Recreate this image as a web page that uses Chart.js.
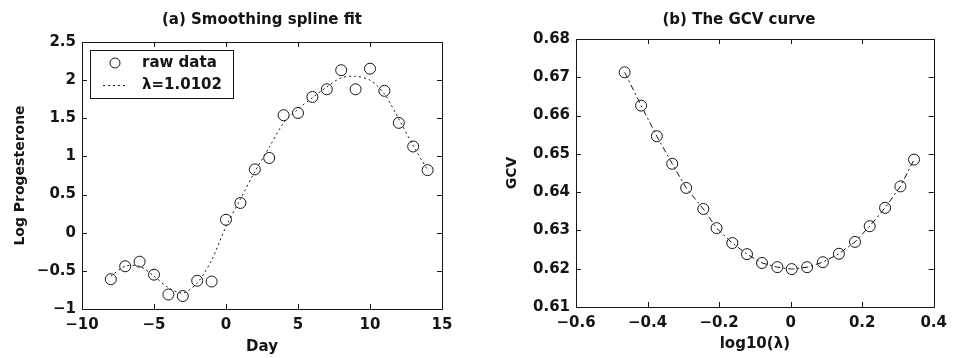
<!DOCTYPE html>
<html>
<head>
<meta charset="utf-8">
<title>Smoothing spline / GCV</title>
<script src="https://cdn.jsdelivr.net/npm/chart.js@4.4.0/dist/chart.umd.min.js"></script>
<style>
    html, body { margin: 0; padding: 0; background: #fff; }
    #wrap { position: relative; width: 954px; height: 358px; }
    .panel { position: absolute; top: 0; width: 477px; height: 358px; }
</style>
</head>
<body>
<div id="wrap">
    <div class="panel" style="left:0"><canvas id="chart-a" width="477" height="358"></canvas></div>
    <div class="panel" style="left:477px"><canvas id="chart-b" width="477" height="358"></canvas></div>
</div>
<script>
/* global Chart */

// ---- data ----
var days   = [-8, -7, -6, -5, -4, -3, -2, -1, 0, 1, 2, 3, 4, 5, 6, 7, 8, 9, 10, 11, 12, 13, 14];
var rawLog = [-0.61, -0.44, -0.38, -0.55, -0.81, -0.83, -0.63, -0.64, 0.17, 0.39, 0.83, 0.98,
              1.54, 1.57, 1.78, 1.88, 2.13, 1.88, 2.15, 1.86, 1.44, 1.13, 0.82];
var fitLog = [-0.57, -0.44, -0.44, -0.57, -0.72, -0.79, -0.66, -0.36, 0.08, 0.44, 0.80, 1.12,
              1.44, 1.62, 1.77, 1.91, 2.03, 2.05, 2.00, 1.82, 1.49, 1.14, 0.82];

var logLambda = [-0.464, -0.418, -0.374, -0.331, -0.292, -0.244, -0.207, -0.163, -0.122, -0.080,
                 -0.037, 0.003, 0.046, 0.090, 0.135, 0.180, 0.221, 0.264, 0.307, 0.345];
var gcv       = [0.6713, 0.6626, 0.6546, 0.6474, 0.6411, 0.6356, 0.6306, 0.6267, 0.6238, 0.6215,
                 0.6204, 0.6199, 0.6204, 0.6217, 0.6239, 0.6270, 0.6311, 0.6359, 0.6415, 0.6485];

var dayTicks        = [-10, -5, 0, 5, 10, 15];
var dayTickLabels   = ['\u221210', '\u22125', '0', '5', '10', '15'];
var progTicks       = [-1, -0.5, 0, 0.5, 1, 1.5, 2, 2.5];
var progTickLabels  = ['\u22121', '\u22120.5', '0', '0.5', '1', '1.5', '2', '2.5'];
var lamTicks        = [-0.6, -0.4, -0.2, 0, 0.2, 0.4];
var lamTickLabels   = ['\u22120.6', '\u22120.4', '\u22120.2', '0', '0.2', '0.4'];
var gcvTicks        = [0.61, 0.62, 0.63, 0.64, 0.65, 0.66, 0.67, 0.68];
var gcvTickLabels   = ['0.61', '0.62', '0.63', '0.64', '0.65', '0.66', '0.67', '0.68'];

var INK = '#151515';
var FONT = '"DejaVu Sans", "Liberation Sans", Arial, sans-serif';

function pairs(xs, ys) {
    return xs.map(function (x, i) { return { x: x, y: ys[i] }; });
}

function axis(opts) {
    return {
        type: 'linear',
        min: opts.min,
        max: opts.max,
        afterBuildTicks: function (s) {
            s.ticks = opts.ticks.map(function (v) { return { value: v }; });
        },
        afterFit: function (s) {
            if (opts.width) s.width = opts.width;
            if (opts.height) s.height = opts.height;
        },
        ticks: {
            color: INK,
            font: { family: FONT, size: 15, weight: 'bold' },
            padding: opts.tickPad,
            autoSkip: false,
            maxRotation: 0,
            callback: function (v, i) { return opts.labels[i]; },
        },
        grid: { display: false, drawTicks: false },
        border: { display: false },
        title: {
            display: true,
            text: opts.title,
            color: INK,
            font: { family: FONT, size: opts.titleSize, weight: 'bold' },
            padding: opts.titlePad,
        },
    };
}

// Matlab style frame: box, inward ticks, title and (optional) legend
var frame = {
    id: 'frame',
    afterDraw: function (chart, args, o) {
        var ctx = chart.ctx, a = chart.chartArea;
        var sx = chart.scales.x, sy = chart.scales.y;
        ctx.save();
        ctx.strokeStyle = INK;
        ctx.lineWidth = 1;
        ctx.strokeRect(Math.round(a.left) + 0.5, Math.round(a.top) + 0.5,
                       Math.round(a.right - a.left), Math.round(a.bottom - a.top));
        ctx.beginPath();
        sx.ticks.forEach(function (t) {
            var px = Math.round(sx.getPixelForValue(t.value)) + 0.5;
            ctx.moveTo(px, a.bottom); ctx.lineTo(px, a.bottom - 5);
            ctx.moveTo(px, a.top);    ctx.lineTo(px, a.top + 5);
        });
        sy.ticks.forEach(function (t) {
            var py = Math.round(sy.getPixelForValue(t.value)) + 0.5;
            ctx.moveTo(a.left, py);  ctx.lineTo(a.left + 5, py);
            ctx.moveTo(a.right, py); ctx.lineTo(a.right - 5, py);
        });
        ctx.stroke();

        // title
        ctx.fillStyle = INK;
        ctx.font = 'bold 15px ' + FONT;
        ctx.textAlign = 'center';
        ctx.textBaseline = 'middle';
        ctx.fillText(o.title, o.titleX, 20);

        // legend
        if (o.legend) {
            var L = o.legend;
            ctx.fillStyle = '#fff';
            ctx.fillRect(L.x, L.y, L.w, L.h);
            ctx.strokeRect(L.x + 0.5, L.y + 0.5, L.w, L.h);
            ctx.beginPath();
            ctx.arc(L.x + 25, L.y + 13, 5, 0, Math.PI * 2);
            ctx.stroke();
            ctx.setLineDash([2, 3]);
            ctx.beginPath();
            ctx.moveTo(L.x + 13, L.y + 35.5);
            ctx.lineTo(L.x + 38, L.y + 35.5);
            ctx.stroke();
            ctx.setLineDash([]);
            ctx.fillStyle = INK;
            ctx.font = 'bold 15px ' + FONT;
            ctx.textAlign = 'left';
            ctx.fillText(L.labels[0], L.x + 52, L.y + 13);
            ctx.fillText(L.labels[1], L.x + 52, L.y + 35);
        }
        ctx.restore();
    },
};

var pointStyle = {
    pointStyle: 'circle',
    pointRadius: 5.5,
    pointBorderColor: INK,
    pointBorderWidth: 1,
    pointBackgroundColor: 'rgba(0,0,0,0)',
};

new Chart(document.getElementById('chart-a'), {
    type: 'scatter',
    data: {
        datasets: [
            Object.assign({
                label: 'raw data',
                data: pairs(days, rawLog),
                showLine: false,
            }, pointStyle),
            {
                label: '\u03bb=1.0102',
                data: pairs(days, fitLog),
                showLine: true,
                borderColor: INK,
                borderWidth: 1,
                borderDash: [2, 3],
                pointRadius: 0,
                tension: 0.3,
            },
        ],
    },
    options: {
        responsive: false,
        animation: false,
        devicePixelRatio: 1,
        events: [],
        layout: { padding: { top: 42, right: 35, left: 0, bottom: 0 } },
        plugins: {
            legend: { display: false },
            tooltip: { enabled: false },
            frame: {
                title: '(a) Smoothing spline fit',
                titleX: 262,
                legend: { x: 90, y: 50, w: 143, h: 48, labels: ['raw data', '\u03bb=1.0102'] },
            },
        },
        scales: {
            x: axis({ min: -10, max: 15, ticks: dayTicks, labels: dayTickLabels, height: 49,
                      tickPad: 7, title: 'Day', titleSize: 15, titlePad: { top: 0, bottom: 2 } }),
            y: axis({ min: -1, max: 2.5, ticks: progTicks, labels: progTickLabels, width: 82,
                      tickPad: 6, title: 'Log Progesterone', titleSize: 14, titlePad: { top: 12, bottom: 0 } }),
        },
    },
    plugins: [frame],
});

new Chart(document.getElementById('chart-b'), {
    type: 'scatter',
    data: {
        datasets: [
            Object.assign({
                label: 'GCV',
                data: pairs(logLambda, gcv),
                showLine: true,
                borderColor: INK,
                borderWidth: 1,
                borderDash: [6, 3, 2, 3],
            }, pointStyle),
        ],
    },
    options: {
        responsive: false,
        animation: false,
        devicePixelRatio: 1,
        events: [],
        layout: { padding: { top: 39, right: 16, left: 0, bottom: 0 } },
        plugins: {
            legend: { display: false },
            tooltip: { enabled: false },
            frame: { title: '(b) The GCV curve', titleX: 262 },
        },
        scales: {
            x: axis({ min: -0.6, max: 0.4, ticks: lamTicks, labels: lamTickLabels, height: 51,
                      tickPad: 7, title: 'log10(\u03bb)', titleSize: 15, titlePad: { top: 0, bottom: 5 } }),
            y: axis({ min: 0.61, max: 0.68, ticks: gcvTicks, labels: gcvTickLabels, width: 99,
                      tickPad: 6, title: 'GCV', titleSize: 14, titlePad: { top: 27, bottom: 0 } }),
        },
    },
    plugins: [frame],
});
</script>
</body>
</html>
